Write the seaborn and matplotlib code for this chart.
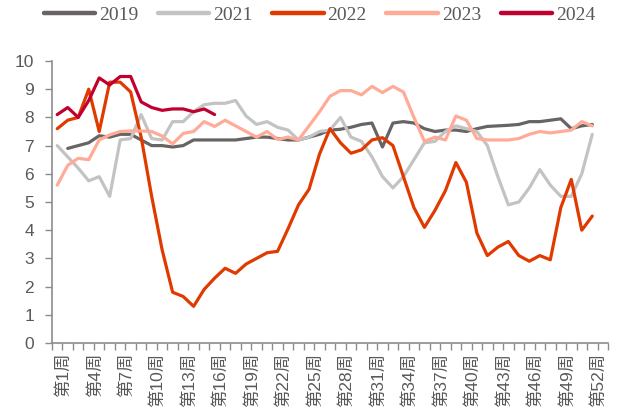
import numpy as np
import pandas as pd
import matplotlib
matplotlib.use("Agg")
import matplotlib.pyplot as plt
import matplotlib.transforms as mtransforms
import seaborn as sns

# weekly values, week 1..52 (nan = no data)
weeks = list(range(1, 53))
v2019 = [np.nan, 6.9, 7.0, 7.1, 7.35, 7.3, 7.4, 7.4, 7.2, 7.0,
         7.0, 6.95, 7.0, 7.2, 7.2, 7.2, 7.2, 7.2, 7.25, 7.3,
         7.3, 7.25, 7.2, 7.2, 7.3, 7.4, 7.55, 7.58, 7.65, 7.75,
         7.8, 6.95, 7.8, 7.85, 7.8, 7.6, 7.5, 7.55, 7.55, 7.5,
         7.6, 7.68, 7.7, 7.72, 7.75, 7.85, 7.85, 7.9, 7.95, 7.6,
         7.7, 7.75]
v2021 = [7.0, 6.6, 6.2, 5.75, 5.9, 5.2, 7.2, 7.25, 8.1, 7.25,
         7.2, 7.85, 7.85, 8.2, 8.45, 8.5, 8.5, 8.6, 8.05, 7.75,
         7.85, 7.65, 7.55, 7.2, 7.3, 7.5, 7.55, 8.0, 7.3, 7.15,
         6.6, 5.9, 5.5, 5.9, 6.5, 7.1, 7.15, 7.5, 7.7, 7.6,
         7.5, 7.0, 5.9, 4.9, 5.0, 5.5, 6.15, 5.6, 5.2, 5.2,
         6.0, 7.4]
v2022 = [7.6, 7.9, 8.0, 9.0, 7.5, 9.25, 9.25, 8.9, 7.3, 5.2,
         3.3, 1.8, 1.65, 1.3, 1.9, 2.3, 2.65, 2.47, 2.8, 3.0,
         3.2, 3.25, 4.05, 4.9, 5.45, 6.7, 7.6, 7.1, 6.73, 6.85,
         7.2, 7.28, 7.0, 5.9, 4.8, 4.1, 4.7, 5.4, 6.4, 5.7,
         3.9, 3.1, 3.4, 3.6, 3.1, 2.9, 3.1, 2.95, 4.8, 5.8,
         4.0, 4.5]
v2023 = [5.6, 6.3, 6.55, 6.5, 7.2, 7.38, 7.5, 7.52, 7.52, 7.5,
         7.34, 7.06, 7.43, 7.5, 7.85, 7.68, 7.9, 7.7, 7.5, 7.3,
         7.5, 7.22, 7.3, 7.2, 7.7, 8.2, 8.75, 8.95, 8.95, 8.8,
         9.1, 8.88, 9.1, 8.9, 8.0, 7.15, 7.3, 7.2, 8.05, 7.9,
         7.25, 7.2, 7.2, 7.2, 7.25, 7.4, 7.5, 7.45, 7.5, 7.55,
         7.85, 7.7]
v2024 = [8.1, 8.35, 8.0, 8.6, 9.4, 9.15, 9.45, 9.45, 8.55, 8.35,
         8.25, 8.3, 8.3, 8.2, 8.3, 8.1] + [np.nan] * 36

years = ["2019", "2021", "2022", "2023", "2024"]
colors = ["#686464", "#c3c3c3", "#e03a00", "#ffab98", "#c20030"]
label_weeks = list(range(1, 53, 3))
tick_labels = ["第" + str(w) + "周" for w in label_weeks]

series = [v2019, v2021, v2022, v2023, v2024]
frames = []
for y, vals in zip(years, series):
    frames.append(pd.DataFrame({"week": weeks, "value": vals, "year": y}))
df = pd.concat(frames, ignore_index=True).dropna()

sns.set_style("white")
plt.rcParams["font.family"] = ["Liberation Sans", "Noto Sans CJK SC", "DejaVu Sans"]

fig = plt.figure(figsize=(6.21, 4.19), dpi=100)
ax = fig.add_axes([52 / 621, 76 / 419, 556 / 621, 282 / 419])

sns.lineplot(data=df, x="week", y="value", hue="year", hue_order=years,
             palette=colors, linewidth=2.3, sort=True, ax=ax, legend=True)

ax.set_xlim(0.5, 53.5)
ax.set_ylim(0, 10)
ax.set_yticks(range(0, 11))
ax.set_xticks(label_weeks)
ax.set_xticklabels(tick_labels, rotation=90, fontsize=12.5, color="#595959",
                   va="top", ha="center")
ax.set_xticks(np.arange(0.5, 54, 1), minor=True)
ax.tick_params(axis="x", which="major", length=0, pad=7)
ax.tick_params(axis="x", which="minor", length=5, width=1, color="#8c8c8c",
               direction="out", bottom=True)
ax.tick_params(axis="y", length=5, width=1, color="#8c8c8c", direction="out",
               left=True, labelsize=12.5, labelcolor="#595959", pad=8)
for lab in ax.get_xticklabels():
    lab.set_transform(lab.get_transform() +
                      mtransforms.ScaledTranslation(6 / 100, 0, fig.dpi_scale_trans))
ax.set_xlabel("")
ax.set_ylabel("")
for s in ["top", "right"]:
    ax.spines[s].set_visible(False)
for s in ["left", "bottom"]:
    ax.spines[s].set_color("#8c8c8c")
    ax.spines[s].set_linewidth(1.2)

handles, labels = ax.get_legend_handles_labels()
ax.get_legend().remove()
for h in handles:
    h.set_linewidth(3.2)
leg = fig.legend(handles, labels, loc="center", bbox_to_anchor=(0.5145, 1 - 15 / 419),
                 ncol=5, frameon=False, handlelength=2.65, handletextpad=0.2,
                 columnspacing=1.0, prop={"family": "Liberation Serif", "size": 14})
for t in leg.get_texts():
    t.set_color("#595959")

plt.savefig("out.png", dpi=100)
